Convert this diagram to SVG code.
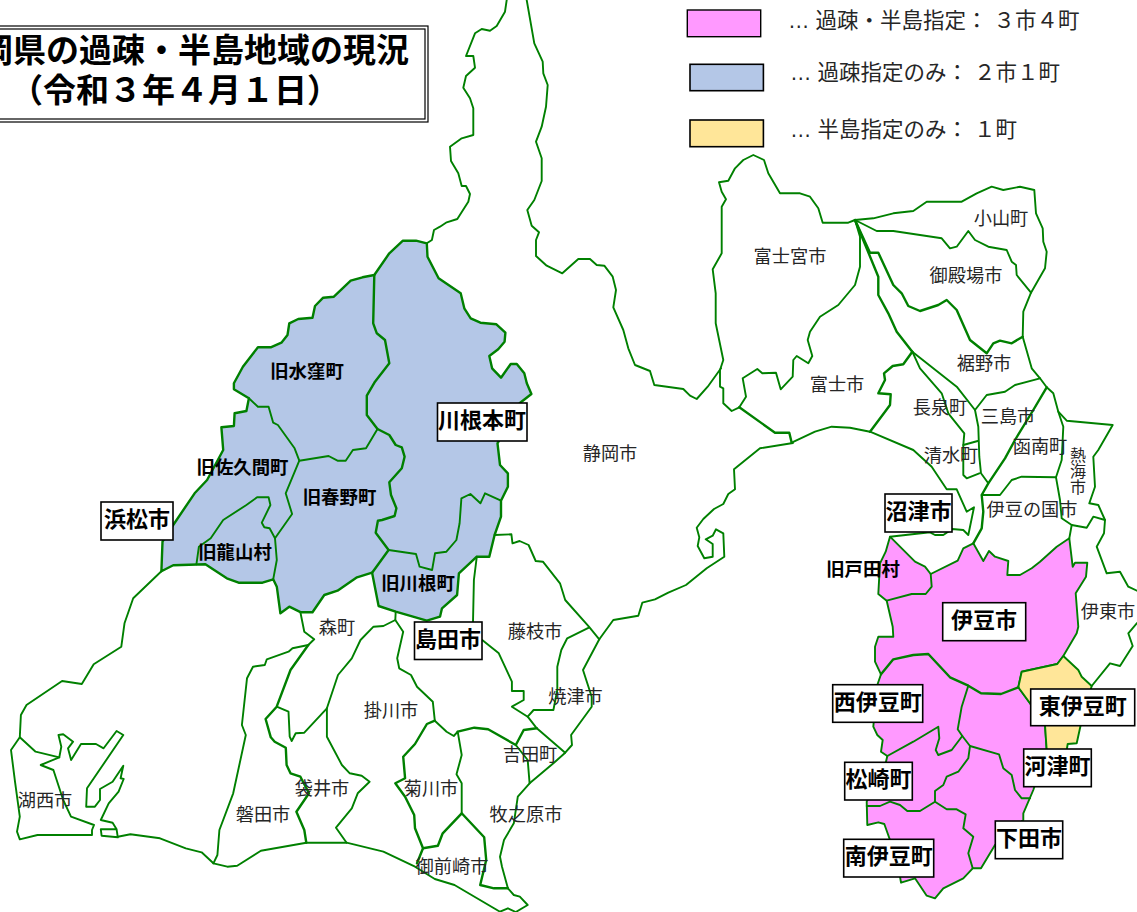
<svg xmlns="http://www.w3.org/2000/svg" width="1137" height="912" viewBox="0 0 1137 912">
<style>
text{font-family:"Noto Sans CJK JP","Liberation Sans",sans-serif;text-anchor:middle;dominant-baseline:central}
.p{font-size:18.2px;fill:#262626}
.o{font-size:18.4px;font-weight:700;fill:#000}
.b{font-size:22px;font-weight:700;fill:#000}
.l{font-family:"Liberation Sans","Noto Sans CJK JP",sans-serif;font-size:21.5px;fill:#262626;text-anchor:start}
.t{font-size:33px;font-weight:700;fill:#000}
.box{fill:#fff;stroke:#000;stroke-width:1.6}
.m{fill:none;stroke:#008000;stroke-width:1.9;stroke-linejoin:round;stroke-linecap:round}
.k{stroke-width:2.4}
</style>
<rect width="1137" height="912" fill="#fff"/>
<g id="regions">
<polygon id="area-blue" class="m k" style="fill:#B4C7E7" points="374.3,275 389.3,253.3 402.9,240.7 416,240.7 426.8,243.3 427.5,256.7 438.6,278.3 460.7,293.3 464.3,308.3 470.7,318.3 480.4,322.7 496.4,324.3 505.4,332.7 504.6,341.7 498.2,349.3 489.3,356 492.1,368.3 501,377.7 510.7,364 516.8,364 524.3,373.3 526.8,383.3 531.4,394 519.6,403.3 497.5,443.3 500,465 507.9,473.3 507.9,486.7 501,500.7 501,516.7 494.6,535 489.3,556.7 476.8,556.7 458.9,573.3 457.1,595 442,608.3 440,616.7 426.8,620.7 395.7,611.7 378.6,606 372.1,572.7 357,577.3 337.5,590.7 324.3,595 312.5,612.3 301,612.3 289.3,606.7 280.4,613.3 276.8,586.7 273.2,579.3 262.5,582.7 238.6,582.7 226.8,578.3 205.4,564.3 173.2,565.3 161.4,571.3 162.5,541.7 173.2,525 194.6,493.3 207.1,480 223.2,450 221.4,427.3 233.9,426 234.6,413.3 246.4,411 248.9,398.3 233.9,389.3 233.9,383.3 242.9,366.7 257.9,347.3 270.7,347.3 281.4,342.7 287.5,335 289.3,323.3 298.2,319 312.5,317.7 315,306 323.2,297.7 333.9,296.7 350.7,280.7 362.5,277.3"/>
<polygon id="area-pink" class="m" style="fill:#FF99FF" points="890,536.7 885.7,551.7 880,563.3 878.3,594 886.7,600.7 892.7,626.7 893.3,636.7 878.3,636.7 875,646.7 875,661.7 881,674.3 877.3,685 873.3,726.7 877.3,735 882.7,740 881,751.7 887.3,756 886,761.7 866.7,801.7 867.3,825 878.3,822.3 884.3,824 890,840 900,876.7 901,882.7 915,878.3 926.7,895.7 935,898.3 943.3,888.3 963.3,878.3 972.7,868.3 981,868.3 995,845 1023.3,820 1023.3,813.3 1033.3,790 1046.7,750 1045,725 1030,703.3 1018.3,687.3 1021.7,671.7 1057.3,664 1063.3,656 1076.7,633.3 1078.3,626.7 1075.7,593.3 1086,576.7 1087.3,562.7 1075,562.7 1072.7,566.7 1069.3,538.3 1056.7,546.7 1040,561.7 1031.7,568.3 1020,575 1007.3,575 1008.3,561 995,556.7 989,551 983.3,561 973.3,543.3 963.3,548.3 957.7,560.7 930.7,574 925,566.7 915,561.7"/>
<polygon id="area-yellow" class="m" style="fill:#FFE699" points="1063.3,656 1078.3,670 1081.7,676.7 1091.7,686 1080.7,725 1076.7,743.3 1067.7,744 1066.7,750 1046.7,750 1045,725 1030,703.3 1018.3,687.3 1021.7,671.7 1057.3,664"/>
</g>
<g id="borders" class="m">
<polyline class="k" points="374.3,275 373.2,323.3 376.8,333.3 385,340 389.3,363.3 375,381.7 366.8,395.7 366.8,415 377.5,429 389.3,435 395.7,445 401.8,447.3 404.6,456.7 401.8,468.3 389.3,482.3 391,495 396.4,508.3 394.6,516 382,520 377.9,520.7 375.7,532.7 388.6,550 372.1,572.7"/>
<polyline points="388.6,550 416,554 419.6,566.7 432.1,570 435,553.3 446.4,551.7 456.4,540 459.6,523.3 461.4,498.3 470.4,494 480.4,503.3 485,493.3 501,500.7"/>
<polyline points="377.5,429 366,448.3 352.9,450 345.7,460.7 337.5,460.7 328.6,456 299.3,460.7"/>
<polyline points="248.9,398.3 257.9,406.7 268.6,406.7 273.2,422.7 277.9,425 294.6,448.3 299.3,460.7 285.7,493.3 292.1,514 275,538.3 276.8,560 273.2,579.3"/>
<polyline points="196.4,564.3 198.9,546.7 210.7,538.3 223.2,520 246.4,505 257.1,497.3 268.6,497.3 270.4,505 261.8,522.7 264.3,527.3 269.6,528.3 275,538.3"/>
<polyline points="161.4,571.3 133.2,598.3 124.5,623.3 121.3,646.7 93.7,664.3 81.8,684 62.1,681 26.5,705 20.9,715 19.8,737.3 11,750 15,781.7 19.8,816.7 17,831.7 19.8,839.3 37.5,835 92,835 92,830 94,825 71,816.7 63.2,800 53.4,770 40.7,765 59.3,757.3 61.3,746.7 58.5,735 63.2,734.3 73.1,741.7 68,748.3 71.1,760 81,744 96,744 103.6,748.3 116.6,731 123.3,735 87,788.3 86.2,806.7 94.9,806.7 100,800 100,789 112.6,781.7 123.3,765.7 120.6,778.3 123.7,779 118.6,791.7 108.7,803.3 100.8,820 112.6,822.7 116.6,829.3 100.8,829.3 101.6,835.7 117.8,837.3 116.6,829.3"/>
<polyline points="19.8,737.3 35.6,751.7 59.3,757.3"/>
<polyline points="117.8,836.7 130.4,834.3 160,838.3 185.8,848.3 201.6,852.3 213.4,863.3 227.3,866.7 237.2,865.7 260.9,850.7 306.3,842.7 346.6,842.7 383.4,851.7 415,866.7 434.8,879 454.5,885 500,911.7 507.9,908.3 515.8,912 527.7,905 519.8,896.7 513.8,895 507.9,888.3 502,866.7 500,856.7 504,840 513.8,823.3 517.8,796.7 529.6,783.3 553.4,763.3 565.2,752.7 572,745 571.1,735 591.7,706.7 591.7,696.7 583,670 599.3,639.3 613.3,620 638.3,615.7 642.3,602.7 655,599.3 668.3,592.7 686,585 706.7,568.3 724.3,556.7 723.3,533.3 716,529.3 712.7,535.7 705.7,539.3 712.7,544 712.7,556.7 704.3,558.3 697.7,546 699.3,537.3 696.7,527.7 703.3,519 714,509 723.3,504 728.3,494 735,489.3 734,469.3 760,448.3 793,443"/>
<polyline points="565.2,752.7 536.8,728.3 527.7,716.7 511.9,706.7 523.7,700 523.7,691 511.9,691 511.9,681.7 498.8,653.3 482.2,640"/>
<polyline points="588.9,627.7 567.2,638.3 561.3,650 557.3,666.7 557.3,690 553.4,710 533.6,710 527.7,716.7"/>
<polyline points="494.6,535 511.4,534.3 512.5,543.3 519.6,541 528.6,545 535.7,561 542.9,561.7 560,583.3 565.2,600 588.9,626.7 599.3,639.3"/>
<polyline points="476.8,556.7 473.9,580 473,622"/>
<polyline points="506.7,0 505,11.7 496.7,26 490,30.7 481.7,29 475,33.3 466,56 473.3,56 475,67.7 466,76 463.3,87.7 470,98.3 473.3,108.3 473.3,135 461.7,138.3 450,146.7 451,161 458.3,173.3 461.7,186 466,186 470,194 468.3,201.7 457.3,219 446.7,222.3 440,226.7 434,230 431.9,240 426.8,243.3"/>
<polyline points="526.7,0 534.3,43.3 542.7,61.7 543.3,73.3 547.7,85 546,106.7 541.7,126.7 536,141.7 541.7,158.3 541.7,181 534.3,200 527.3,210 531.7,225.7 539,232.3 536,240 536,256 546.7,265.7 562.3,273.3 578.3,259 590,259 596.7,265 604.3,265.7 612.7,276.7 616,290 613.3,307.3 623.3,330 628.3,348.3 635,365 650,371 654.3,385 683.3,389 690,395.7 696.7,399 707.7,386.7 721,368.3"/>
<polyline points="855,220 848.3,222.7 822.7,222.7 818.3,208.3 810,196.7 800,193.3 780,193.3 768.3,173.3 764,160 753.3,155 743.3,160 735,168.3 728.3,180.7 719,182.3 721.7,191.7 726,199.3 721.7,206.7 721.7,253.3 712.7,269.3 715.7,293.3 715.7,323.3 723.3,360 720,370 720,386.7 723.3,388.3 723.3,403.3 731.7,411 739.3,407.3"/>
<polyline points="739.3,407.3 746,396.7 742.7,378.3 757.3,369 762.3,373.3 776,372.7 780.7,389.3 792.7,376.7 793.3,360 796.7,356 808.3,363.3 812.3,356 807.7,340 810,331.7 820,316.7 838.3,305 855,285 860,266.7 860,236.7 855,220"/>
<polyline class="k" points="739.3,407.3 775,432.7 789.3,432.7 791.7,442.7"/>
<polyline points="791.7,442.7 815,431.7 831.7,426.7 850,427.7 870,431.7 913.3,450 931.7,466.7 946.7,489.3 956.7,489.3 966.7,511.7 974,507.3 968.3,535 963.3,530 952.3,529 943.3,535 935,535 930,532.3 890,536.7"/>
<polyline class="k" points="870,431.7 885,411.7 890,405 890.7,394.3 878.3,393.3 885,380 884,373.3 892.7,366 903.3,364.3 912.3,351.7"/>
<polyline class="k" points="855,220 878.3,276.7 878.3,295 888.3,313.3 896.7,331.7 912.3,351.7"/>
<polyline class="k" points="855,220 870,252.7 878.3,252.7 893.3,285 901.7,293.3 908.3,306 920,311 938.3,305 946.7,300 956.7,310 970,340 986.7,353.3 993.3,343.3 1000,340.7 1011.7,343.3 1022.7,336.7"/>
<polyline points="855,220 876.7,231 893.3,231 941.7,238.3 950,248.3 956.7,246.7 968.3,231 975,240 988.3,246.7 1006.7,250 1011.7,261.7 1016,265 1016.7,275 1031,292.7"/>
<polyline points="855,220 873.3,218.3 893.3,213.3 913.3,211 926.7,201.7 961.7,201.7 976.7,193.3 991.7,186.7 1003.3,190 1020,186.7 1034.3,190 1036,213.3 1042.7,228.3 1043.3,241.7 1046.7,251.7 1045,268.3 1031,292.7 1023.3,311.7 1022.7,336.7 1031.7,368.3 1040,378.3 1046.7,387.3 1053.3,393.3 1058.3,411.7 1063.3,426.7 1061.7,460 1056,477.3 1060,500 1061.7,518.3 1071.7,525 1086.7,527.7 1093.3,516.7 1105,520 1104,533.3 1096.7,546.7 1106.7,573.3 1120,571.7 1128.3,586.7 1137,590.7"/>
<polyline points="1058.3,411.7 1066.7,420.7 1112.7,425 1098.3,450 1093.3,456.7 1095,486.7 1089.3,503.3 1098.3,505 1105,520"/>
<polyline points="1071.7,525 1069.3,538.3"/>
<polyline points="912.3,351.7 956.7,386.7 975,410 978.3,426.7 979.3,456.7 981,473.3 988.3,483.3"/>
<polyline points="975,410 986.7,395 1005,391.7 1015,385 1040,378.3"/>
<polyline points="912.3,351.7 920,368.3 941.7,393.3 948.3,413.3 964.3,433.3 963.3,445 963.3,475 966.7,478.3 979.3,473.3"/>
<polyline points="963.3,445 977.7,441"/>
<polyline class="k" points="1046.7,387.3 1033.3,410 1015,440 1005,458.3 988.3,483.3 981.7,495 983.3,511.7 981.7,528.3 973.3,543.3"/>
<polyline points="981.7,495 1000,495 1011.7,480 1021.7,476.7 1056,477.3"/>
<polyline points="1091.7,686 1110,663.3 1120,666 1132.7,646 1128.3,633.3 1137,623"/>
<polyline points="930.7,574 931.7,586.7 925.7,594 911.7,594 886.7,600.7"/>
<polyline class="k" points="881,674.3 893.3,659.3 913.3,655 928.3,654 950,677.3 968.3,685.7 981,693.3 1001,694 1018.3,687.3"/>
<polyline points="968.3,685.7 961.7,706.7 957.7,729.3 962.3,736 970,746 999,754.3 1003.3,768.3 1011.7,775 1015,790 1021.7,798.3 1030,798.3"/>
<polyline points="962.3,736 951.7,750 938.3,755 935.7,750 939.3,738.3 938.3,726.7 913.3,741.7 887.3,756"/>
<polyline points="970,746 968.3,758.3 958.3,771.7 946.7,776.7 943.3,785 935,791 935,801.7 920,811 907.3,811 900,805 890,801.7 880,806 866.7,806"/>
<polyline points="935,801.7 946.7,809.3 956.7,809.3 965.7,814.3 963.3,828.3 973.3,836.7 968.3,853.3 972.7,868.3"/>
<polyline points="300.4,612.3 304.3,631.7 314.2,639.3 308.3,645 292.5,648.3 288.5,651.7 266.8,659.3 264.8,665 253,666.7 247,678.3 241.9,725 245.8,735 233.2,793.3 219.4,830 217.4,855 213.4,863.3"/>
<polyline class="k" points="308.3,645 290.5,670 276.7,706.7 265.6,719 270.8,737.3 274.7,741.7 285.8,747.7 286.6,765 290.5,773.3 300.4,776.7 309,793.3 296.4,811.7 304.3,830 306.3,842.7"/>
<polyline points="276.7,706.7 288.5,711.7 289.7,736.7 291.7,741 295.7,733.3 304.3,732.7 326.9,708.3 338,675 351.8,658.3 360.5,640 373.5,626.7 383.4,626 395.3,620 395.7,611.7"/>
<polyline points="326.9,708.3 326.9,736.7 341.9,765 349.8,773.3 361.7,775.7 369.6,781.7 357.7,793.3 351.8,808.3 336,827.7 346.6,842.7"/>
<polyline points="395.3,620 403.2,631.7 397.2,658.3 399.2,668.3 411,675 417,686.7 432.8,701.7 434.8,720.7"/>
<polyline class="k" points="434.8,720.7 426.9,724 415,744 403.2,756.7 405.1,778.3 395.3,783.3 405.1,796.7 414.2,815 415,828.3 423,848.3 417,863.3"/>
<polyline class="k" points="423,848.3 437.9,845.7 442.7,833.3 461.7,813.3 484.2,837.3 486.2,860 480.2,885 494,888.3 507.9,888.3"/>
<polyline points="434.8,720.7 446.6,731.7 453.8,736 457.7,731.7 461.7,755 456.5,774.3 461.7,783.3 461.7,813.3"/>
<polyline class="k" points="457.7,731.7 474.3,727.7 488.1,729.3 515.8,745 523.7,730 536.8,728.3"/>
<polyline points="515.8,745 527.7,760 529.6,783.3"/>
</g>
<g id="legend">
<rect x="687.3" y="10" width="73.4" height="26.7" fill="#FF99FF" stroke="#000" stroke-width="1.4"/>
<rect x="690" y="64.3" width="73.4" height="26.4" fill="#B4C7E7" stroke="#000" stroke-width="1.6"/>
<rect x="690" y="120" width="73.4" height="26.7" fill="#FFE699" stroke="#000" stroke-width="1.6"/>
<text class="l" x="788" y="21">… 過疎・半島指定： ３市４町</text>
<text class="l" x="790" y="73">… 過疎指定のみ： ２市１町</text>
<text class="l" x="790" y="130">… 半島指定のみ： １町</text>
</g>
<g id="title">
<rect x="-10" y="26" width="438" height="96" fill="#fff" stroke="#000" stroke-width="1.2"/>
<rect x="-10" y="29" width="435" height="90" fill="none" stroke="#000" stroke-width="1.2"/>
<text class="t" x="409" y="48" style="text-anchor:end">岡県の過疎・半島地域の現況</text>
<text class="t" x="175" y="88">（令和３年４月１日）</text>
</g>
<g id="labels-plain">
<text class="p" x="337" y="626">森町</text>
<text class="p" x="535" y="630">藤枝市</text>
<text class="p" x="575.5" y="695">焼津市</text>
<text class="p" x="391" y="709">掛川市</text>
<text class="p" x="530" y="753">吉田町</text>
<text class="p" x="431" y="787">菊川市</text>
<text class="p" x="526" y="813">牧之原市</text>
<text class="p" x="322" y="787">袋井市</text>
<text class="p" x="263" y="813">磐田市</text>
<text class="p" x="452" y="865">御前崎市</text>
<text class="p" x="45" y="799">湖西市</text>
<text class="p" x="610" y="452">静岡市</text>
<text class="p" x="790" y="255">富士宮市</text>
<text class="p" x="837" y="383">富士市</text>
<text class="p" x="1001" y="217">小山町</text>
<text class="p" x="966" y="274">御殿場市</text>
<text class="p" x="984" y="362">裾野市</text>
<text class="p" x="940" y="406">長泉町</text>
<text class="p" x="1008" y="415">三島市</text>
<text class="p" x="951" y="454">清水町</text>
<text class="p" x="1040" y="445">函南町</text>
<text class="p" x="1032" y="508">伊豆の国市</text>
<text class="p" x="1108" y="610">伊東市</text>
<text x="1078" y="447" style="writing-mode:vertical-rl;text-anchor:start;font-size:16px;fill:#262626">熱海市</text>
</g>
<g id="labels-old">
<text class="o" x="307" y="370">旧水窪町</text>
<text class="o" x="242.5" y="466">旧佐久間町</text>
<text class="o" x="339.5" y="496">旧春野町</text>
<text class="o" x="235" y="551">旧龍山村</text>
<text class="o" x="418" y="582">旧川根町</text>
<text class="o" x="863" y="568">旧戸田村</text>
</g>
<g id="node-hamamatsu"><rect class="box" x="101" y="502" width="72" height="38"/><text class="b" x="137" y="517">浜松市</text></g>
<g id="node-kawanehon"><rect class="box" x="437.5" y="403" width="89.5" height="38"/><text class="b" x="482" y="418">川根本町</text></g>
<g id="node-shimada"><rect class="box" x="414.5" y="622" width="67.5" height="37.5"/><text class="b" x="448" y="637">島田市</text></g>
<g id="node-numazu"><rect class="box" x="885" y="494" width="67" height="38"/><text class="b" x="918.5" y="509">沼津市</text></g>
<g id="node-izu"><rect class="box" x="942.7" y="602.7" width="83" height="38"/><text class="b" x="984" y="618">伊豆市</text></g>
<g id="node-nishiizu"><rect class="box" x="832.7" y="684.7" width="90" height="37.6"/><text class="b" x="877.7" y="700">西伊豆町</text></g>
<g id="node-higashiizu"><rect class="box" x="1030.7" y="689" width="104" height="36.7"/><text class="b" x="1082.7" y="704">東伊豆町</text></g>
<g id="node-kawazu"><rect class="box" x="1023.7" y="749" width="67.6" height="37.7"/><text class="b" x="1057.5" y="764">河津町</text></g>
<g id="node-matsuzaki"><rect class="box" x="844.7" y="762.3" width="67.6" height="37.7"/><text class="b" x="878.5" y="777">松崎町</text></g>
<g id="node-shimoda"><rect class="box" x="995.3" y="821" width="67.4" height="37.7"/><text class="b" x="1029" y="836">下田市</text></g>
<g id="node-minamiizu"><rect class="box" x="843.7" y="839.3" width="90" height="37.7"/><text class="b" x="888.7" y="854">南伊豆町</text></g>
</svg>
